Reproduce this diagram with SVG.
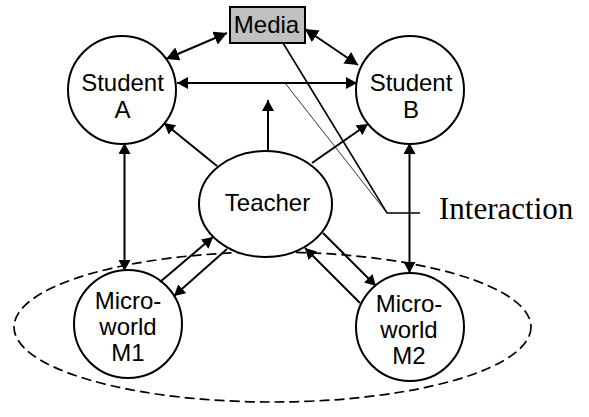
<svg xmlns="http://www.w3.org/2000/svg" width="589" height="417" viewBox="0 0 589 417">
  <style>
    .node { fill: #ffffff; stroke: #000000; stroke-width: 2; }
    .label { font-family: "Liberation Sans", Arial, sans-serif; font-size: 24px; fill: #000000; text-anchor: middle; }
    .link { stroke: #000000; stroke-width: 2; fill: none; }
    .callout { stroke: #000000; fill: none; }
  </style>
  <defs>
    <marker id="arrow" viewBox="0 0 11 12" refX="11" refY="6" markerWidth="11" markerHeight="12" markerUnits="userSpaceOnUse" orient="auto-start-reverse">
      <path d="M0,0 L11,6 L0,12 z" fill="#000000"/>
    </marker>
    <marker id="arrow-lg" viewBox="0 0 13 14" refX="13" refY="7" markerWidth="13" markerHeight="14" markerUnits="userSpaceOnUse" orient="auto-start-reverse">
      <path d="M0,0 L13,7 L0,14 z" fill="#000000"/>
    </marker>
  </defs>
  <rect width="589" height="417" fill="#ffffff"/>

  <!-- dashed boundary around the micro-worlds -->
  <g id="microworld-group">
    <ellipse cx="272.5" cy="327" rx="258.5" ry="75" fill="none" stroke="#000000" stroke-width="1.7" stroke-dasharray="10 5"/>
  </g>

  <g id="media">
    <rect x="230" y="7" width="75" height="36" fill="#c0c0c0" stroke="#000000" stroke-width="2"/>
    <text class="label" x="266.5" y="33">Media</text>
  </g>

  <g id="student-a">
    <circle class="node" cx="122" cy="90" r="54"/>
    <text class="label" x="122.5" y="91">Student</text>
    <text class="label" x="122.5" y="118">A</text>
  </g>

  <g id="student-b">
    <circle class="node" cx="410" cy="90" r="54"/>
    <text class="label" x="411" y="91">Student</text>
    <text class="label" x="411" y="118">B</text>
  </g>

  <g id="teacher">
    <ellipse class="node" cx="265.5" cy="204" rx="66.5" ry="53"/>
    <text class="label" x="267.5" y="211">Teacher</text>
  </g>

  <g id="microworld-m1">
    <circle class="node" cx="128" cy="324" r="54"/>
    <text class="label" x="128" y="309">Micro-</text>
    <text class="label" x="128" y="335">world</text>
    <text class="label" x="128" y="361">M1</text>
  </g>

  <g id="microworld-m2">
    <circle class="node" cx="410" cy="327" r="54"/>
    <text class="label" x="409" y="312">Micro-</text>
    <text class="label" x="409" y="338">world</text>
    <text class="label" x="409" y="364">M2</text>
  </g>

  <g id="connectors">
    <line class="link" x1="166" y1="59" x2="227" y2="33" marker-start="url(#arrow-lg)" marker-end="url(#arrow-lg)"/>
    <line class="link" x1="305" y1="29" x2="358" y2="65" marker-start="url(#arrow-lg)" marker-end="url(#arrow-lg)"/>
    <line class="link" x1="177" y1="83" x2="357" y2="83" marker-start="url(#arrow)" marker-end="url(#arrow)"/>
    <line class="link" x1="268" y1="151" x2="268" y2="100" marker-end="url(#arrow)"/>
    <line class="link" x1="217" y1="166" x2="164" y2="123" marker-end="url(#arrow)"/>
    <line class="link" x1="312" y1="163" x2="368" y2="124" marker-end="url(#arrow)"/>
    <line class="link" x1="124.5" y1="143" x2="124.5" y2="271" marker-start="url(#arrow)" marker-end="url(#arrow)"/>
    <line class="link" x1="409.5" y1="143" x2="409.5" y2="273" marker-start="url(#arrow)" marker-end="url(#arrow)"/>
    <line class="link" x1="160" y1="282" x2="213" y2="237" marker-end="url(#arrow)"/>
    <line class="link" x1="227" y1="249" x2="174" y2="296" marker-end="url(#arrow)"/>
    <line class="link" x1="360" y1="303" x2="305" y2="248" marker-end="url(#arrow)"/>
    <line class="link" x1="323" y1="233" x2="376" y2="286" marker-end="url(#arrow)"/>
  </g>

  <!-- "Interaction" callout -->
  <g id="interaction">
    <polyline class="callout" stroke-width="1.6" points="283,43 387,213 420,213"/>
    <line class="callout" stroke-width="0.8" x1="285" y1="83" x2="387" y2="213"/>
    <text x="439" y="219" font-family="'Liberation Serif', 'Times New Roman', serif" font-size="31" fill="#000000">Interaction</text>
  </g>
</svg>
